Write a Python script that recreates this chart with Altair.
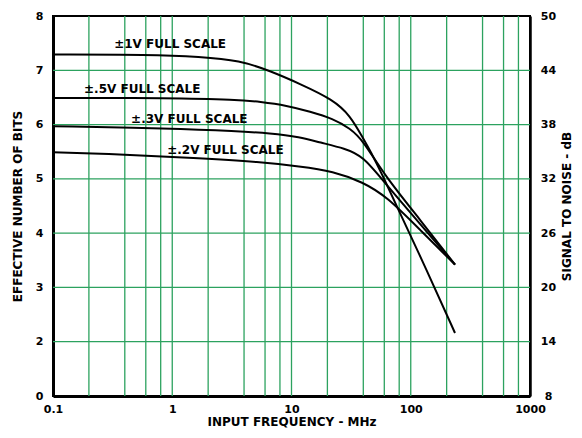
import altair as alt
import pandas as pd

# ---- data (input frequency in MHz, effective number of bits) ----
freq_1v = [0.1, 0.65, 1.71, 3.70, 6.60, 11.8, 22.3, 31.0, 39.8, 45.5, 58.5, 69.7, 139.6, 235]
enob_1v = [7.29, 7.29, 7.25, 7.18, 6.99, 6.75, 6.46, 6.17, 5.75, 5.53, 5.05, 4.68, 3.27, 2.16]

freq_05v = [0.1, 0.957, 3.49, 5.44, 9.17, 14.3, 22.3, 31.0, 39.8, 60.8, 119.6, 235]
enob_05v = [6.49, 6.49, 6.46, 6.42, 6.35, 6.24, 6.11, 5.93, 5.71, 5.05, 4.25, 3.42]

freq_03v = [0.1, 0.957, 3.49, 6.60, 11.8, 17.3, 28.1, 39.8, 60.8, 119.6, 235]
enob_03v = [5.97, 5.93, 5.88, 5.84, 5.77, 5.67, 5.56, 5.42, 4.92, 4.17, 3.42]

freq_02v = [0.1, 0.248, 1.71, 5.44, 11.8, 22.3, 39.8, 63.2, 119.6, 235]
enob_02v = [5.49, 5.47, 5.38, 5.31, 5.23, 5.14, 4.94, 4.67, 4.06, 3.42]

series_names = ["±1V FULL SCALE", "±.5V FULL SCALE", "±.3V FULL SCALE", "±.2V FULL SCALE"]
label_freq = [0.96, 0.56, 1.39, 2.79]
label_enob = [7.49, 6.66, 6.10, 5.53]

x_ticks = [0.1, 1, 10, 100, 1000]
y_ticks = [1, 2, 3, 4, 5, 6, 7, 8]
v_grid = [0.2, 0.4, 0.6, 0.8, 1, 2, 4, 6, 8, 10, 20, 40, 60, 80, 100, 200, 400, 600, 800]
h_grid = [2, 3, 4, 5, 6, 7]

# ---- tables ----
rows = []
for name, fs, es in zip(series_names,
                        [freq_1v, freq_05v, freq_03v, freq_02v],
                        [enob_1v, enob_05v, enob_03v, enob_02v]):
    for i, (f, e) in enumerate(zip(fs, es)):
        rows.append({"series": name, "freq": f, "enob": e, "order": i})
lines_df = pd.DataFrame(rows)
labels_df = pd.DataFrame({"text": series_names, "freq": label_freq, "enob": label_enob})
vgrid_df = pd.DataFrame({"freq": v_grid})
hgrid_df = pd.DataFrame({"enob": h_grid})

FONT = "DejaVu Sans"
GREEN = "#2ca25f"

xscale = alt.Scale(type="log", domain=[0.1, 1000])
yscale = alt.Scale(domain=[1, 8], nice=False, zero=False)

xaxis = alt.Axis(values=x_ticks, format="~g", title="INPUT FREQUENCY - MHz",
                 grid=False, ticks=False, tickSize=0, labelFlush=False,
                 labelPadding=7, titlePadding=2, domainColor="black", domainWidth=3)

y_left = alt.Axis(orient="left", values=y_ticks,
                  labelExpr="datum.value == 1 ? '0' : datum.label",
                  title="EFFECTIVE NUMBER OF BITS", grid=False, ticks=False, tickSize=0,
                  labelPadding=10, titlePadding=11, domainColor="black", domainWidth=3)

y_right = alt.Axis(orient="right", values=y_ticks,
                   labelExpr="format(datum.value * 6 + 2, 'd')",
                   title="SIGNAL TO NOISE - dB", titleAngle=270, titleBaseline="top",
                   labelAlign="center", grid=False, ticks=False, tickSize=0,
                   labelPadding=18, titlePadding=6, domainColor="black", domainWidth=2.5)

vgrid = alt.Chart(vgrid_df).mark_rule(color=GREEN, strokeWidth=1.3).encode(
    x=alt.X("freq:Q", scale=xscale, axis=xaxis)
)
hgrid = alt.Chart(hgrid_df).mark_rule(color=GREEN, strokeWidth=1.3).encode(
    y=alt.Y("enob:Q", scale=yscale, axis=y_left)
)
right_axis = alt.Chart(hgrid_df).mark_rule(opacity=0).encode(
    y=alt.Y("enob:Q", scale=yscale, axis=y_right)
)
lines = alt.Chart(lines_df).mark_line(color="black", strokeWidth=2, interpolate="basis").encode(
    x=alt.X("freq:Q", scale=xscale, axis=xaxis),
    y=alt.Y("enob:Q", scale=yscale, axis=None),
    detail="series:N",
    order="order:Q",
)
labels = alt.Chart(labels_df).mark_text(font=FONT, fontSize=12, fontWeight="bold",
                                        color="black", align="center", baseline="middle").encode(
    x=alt.X("freq:Q", scale=xscale, axis=xaxis),
    y=alt.Y("enob:Q", scale=yscale, axis=None),
    text="text:N",
)

chart = alt.layer(vgrid, hgrid, right_axis, lines, labels).resolve_axis(
    y="independent"
).properties(
    width=477, height=380,
    autosize=alt.AutoSizeParams(type="none"),
    padding={"left": 45, "top": 8, "right": 44, "bottom": 34},
).configure_view(
    stroke="black", strokeWidth=2
).configure_axis(
    labelFont=FONT, labelFontSize=11, labelFontWeight="bold", labelColor="black",
    titleFont=FONT, titleFontSize=12, titleFontWeight="bold", titleColor="black",
)

chart.save("out.html", embed_options={"renderer": "svg", "actions": False})
